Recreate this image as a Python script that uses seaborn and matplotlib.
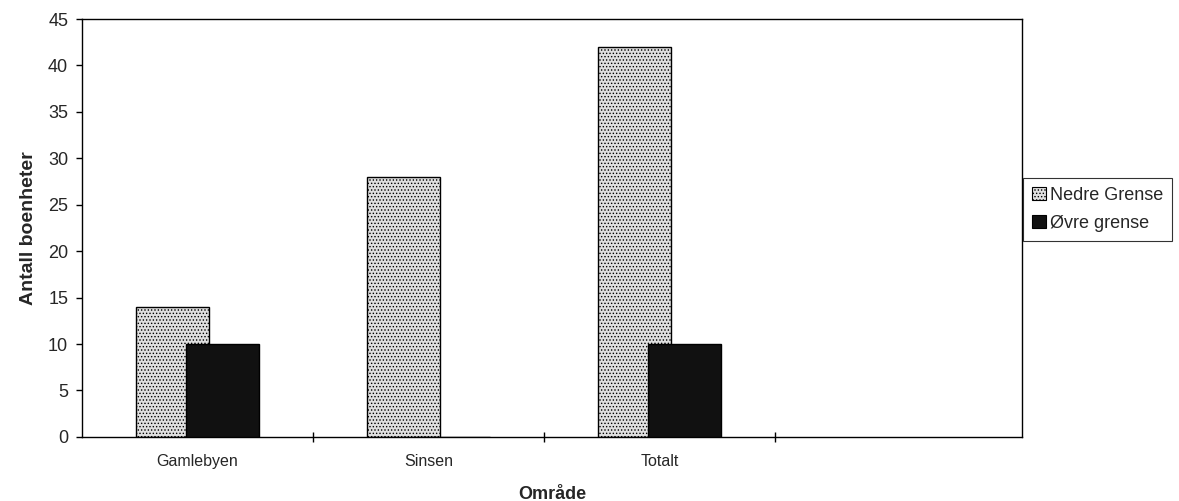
import numpy as np
import pandas as pd
import matplotlib
matplotlib.use("Agg")
import matplotlib.pyplot as plt
import seaborn as sns

# data
omrader = ["Gamlebyen", "Sinsen", "Totalt", ""]
nedre = [14, 28, 42, np.nan]
ovre = [10, 0, 10, np.nan]
serier = ["Nedre Grense", "Øvre grense"]

df = pd.DataFrame({
    "Område": omrader * 2,
    "Antall boenheter": nedre + ovre,
    "serie": [serier[0]] * 4 + [serier[1]] * 4,
})

sns.set_style("white")
plt.rcParams["font.family"] = ["Liberation Sans", "DejaVu Sans"]
plt.rcParams["hatch.color"] = "#7a7a7a"
plt.rcParams["hatch.linewidth"] = 0.6

fig = plt.figure(figsize=(11.79, 5.01), dpi=100)
ax = fig.add_axes([0.0696, 0.128, 0.7974, 0.834])

farger = {serier[0]: "#e0e0e0", serier[1]: "#111111"}
sns.barplot(data=df, x="Område", y="Antall boenheter", hue="serie",
            order=omrader, hue_order=serier, palette=farger,
            dodge=False, width=0.316, edgecolor="black", linewidth=1.0,
            ax=ax, legend=False)

# bars overlap: nedre shifted left, øvre shifted right and drawn on top
forskyv = 0.108
for cont, s in zip(ax.containers, serier):
    for p in cont.patches:
        if s == serier[0]:
            p.set_x(p.get_x() - forskyv)
            p.set_hatch(".....")
            p.set_zorder(2)
        else:
            p.set_x(p.get_x() + forskyv)
            p.set_zorder(3)

ax.set_xlim(-0.5, 3.57)
ax.set_ylim(0, 45)
ax.set_yticks(range(0, 46, 5))
ax.tick_params(axis="y", direction="out", length=4, width=1, labelsize=13,
               pad=6, left=True, color="black")
ax.set_xticks(range(4))
ax.set_xticklabels(omrader, fontsize=11.5)
ax.tick_params(axis="x", length=0, pad=12.5)
ax.set_xticks([0.5, 1.5, 2.5], minor=True)
ax.tick_params(axis="x", which="minor", direction="inout", length=7, width=1,
               bottom=True, color="black")

ax.set_xlabel("Område", fontsize=13, fontweight="bold", labelpad=12)
ax.set_ylabel("Antall boenheter", fontsize=14, fontweight="bold", labelpad=8)

for sp in ax.spines.values():
    sp.set_visible(True)
    sp.set_color("black")
    sp.set_linewidth(1.0)

handles = [
    matplotlib.patches.Patch(facecolor=farger[serier[0]], edgecolor="black",
                             hatch=".....", linewidth=0.8),
    matplotlib.patches.Patch(facecolor=farger[serier[1]], edgecolor="black",
                             linewidth=0.8),
]
leg = fig.legend(handles, serier, loc="center left",
                 bbox_to_anchor=(0.868, 0.582), fontsize=13, borderaxespad=0,
                 handlelength=0.75, handleheight=0.75, handletextpad=0.2,
                 labelspacing=0.6, borderpad=0.5, frameon=True, fancybox=False)
leg.get_frame().set_edgecolor("black")
leg.get_frame().set_linewidth(0.8)

fig.savefig("out.png", dpi=100)
